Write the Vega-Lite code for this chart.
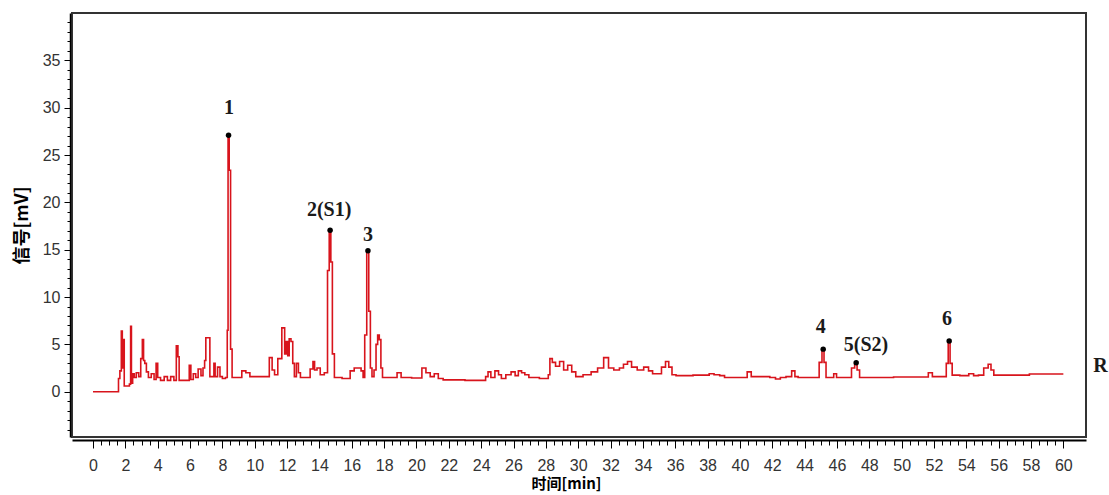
{
  "$schema": "https://vega.github.io/schema/vega-lite/v6.json",
  "width": 1014,
  "height": 424,
  "autosize": "none",
  "padding": {"left": 72, "top": 13, "right": 23, "bottom": 58},
  "background": "white",
  "config": {"view": {"stroke": "#333333", "strokeWidth": 2}, "axis": {"grid": false}},
  "datasets": {
    "trace": [
      {"t":0,"v":0},{"t":1.55,"v":0},{"t":1.6,"v":1.4},{"t":1.72,"v":2.2},{"t":1.78,"v":6.4},{"t":1.84,"v":2.5},{"t":1.9,"v":5.5},{"t":1.96,"v":0.6},
      {"t":2.2,"v":0.6},{"t":2.3,"v":0.8},{"t":2.35,"v":6.9},{"t":2.4,"v":0.9},{"t":2.5,"v":1.9},{"t":2.6,"v":1.5},{"t":2.75,"v":2.0},{"t":2.9,"v":1.6},
      {"t":3.0,"v":3.5},{"t":3.1,"v":5.5},{"t":3.15,"v":3.3},{"t":3.25,"v":3.0},{"t":3.35,"v":2.1},{"t":3.5,"v":1.5},{"t":3.7,"v":1.9},{"t":3.85,"v":1.3},
      {"t":3.95,"v":3.0},{"t":4.05,"v":1.5},{"t":4.3,"v":1.2},{"t":4.5,"v":1.6},{"t":4.7,"v":1.2},{"t":4.9,"v":1.6},{"t":5.1,"v":1.2},{"t":5.2,"v":4.85},
      {"t":5.3,"v":3.7},{"t":5.35,"v":1.2},{"t":5.9,"v":1.2},{"t":6.0,"v":2.8},{"t":6.1,"v":1.3},{"t":6.3,"v":1.9},{"t":6.4,"v":1.5},{"t":6.6,"v":2.4},
      {"t":6.75,"v":1.7},{"t":6.85,"v":2.5},{"t":6.95,"v":3.3},{"t":7.0,"v":5.7},{"t":7.2,"v":5.7},{"t":7.25,"v":1.6},{"t":7.45,"v":1.6},{"t":7.5,"v":3.0},
      {"t":7.6,"v":1.6},{"t":7.8,"v":2.6},{"t":7.9,"v":1.6},{"t":8.1,"v":1.4},{"t":8.28,"v":1.5},{"t":8.32,"v":6.5},{"t":8.38,"v":27.1},{"t":8.46,"v":23.4},
      {"t":8.55,"v":4.5},{"t":8.65,"v":1.5},{"t":9.1,"v":1.5},{"t":9.3,"v":2.2},{"t":9.6,"v":2.0},{"t":9.8,"v":1.6},{"t":10.8,"v":1.6},{"t":11.0,"v":3.6},
      {"t":11.15,"v":2.3},{"t":11.3,"v":1.8},{"t":11.55,"v":3.5},{"t":11.8,"v":6.75},{"t":11.9,"v":4.0},{"t":12.0,"v":5.3},{"t":12.08,"v":3.8},{"t":12.18,"v":5.6},
      {"t":12.3,"v":5.3},{"t":12.4,"v":3.0},{"t":12.5,"v":1.6},{"t":12.65,"v":3.0},{"t":12.75,"v":2.0},{"t":12.9,"v":1.5},{"t":13.3,"v":1.5},{"t":13.55,"v":2.4},
      {"t":13.65,"v":3.2},{"t":13.75,"v":2.3},{"t":13.95,"v":2.5},{"t":14.15,"v":1.8},{"t":14.45,"v":2.0},{"t":14.55,"v":12.8},{"t":14.66,"v":17.06},{"t":14.75,"v":13.7},
      {"t":14.85,"v":4.0},{"t":15.0,"v":1.5},{"t":15.8,"v":1.4},{"t":16.0,"v":2.2},{"t":16.3,"v":2.5},{"t":16.5,"v":2.5},{"t":16.65,"v":2.2},{"t":16.75,"v":1.5},
      {"t":16.85,"v":6.0},{"t":17.0,"v":14.85},{"t":17.1,"v":8.5},{"t":17.2,"v":2.5},{"t":17.3,"v":1.6},{"t":17.45,"v":2.3},{"t":17.55,"v":5.0},{"t":17.65,"v":6.0},
      {"t":17.75,"v":5.5},{"t":17.85,"v":2.5},{"t":17.95,"v":1.5},{"t":18.7,"v":1.5},{"t":18.9,"v":2.0},{"t":19.2,"v":1.5},{"t":20.2,"v":1.45},{"t":20.47,"v":2.5},
      {"t":20.7,"v":2.0},{"t":21.0,"v":1.6},{"t":21.2,"v":1.9},{"t":21.5,"v":1.4},{"t":21.8,"v":1.25},{"t":24.2,"v":1.2},{"t":24.35,"v":1.6},{"t":24.5,"v":2.1},
      {"t":24.7,"v":1.5},{"t":25.0,"v":2.2},{"t":25.15,"v":1.8},{"t":25.35,"v":1.4},{"t":25.7,"v":1.8},{"t":26.0,"v":2.1},{"t":26.2,"v":1.7},{"t":26.4,"v":2.2},
      {"t":26.6,"v":2.0},{"t":26.8,"v":1.8},{"t":27.1,"v":1.5},{"t":28.1,"v":1.4},{"t":28.2,"v":1.8},{"t":28.3,"v":3.5},{"t":28.5,"v":3.1},{"t":28.7,"v":2.7},
      {"t":29.0,"v":3.2},{"t":29.2,"v":2.3},{"t":29.5,"v":2.8},{"t":29.7,"v":2.1},{"t":30.0,"v":1.6},{"t":30.6,"v":1.8},{"t":31.0,"v":2.1},{"t":31.4,"v":2.5},
      {"t":31.75,"v":3.6},{"t":32.0,"v":2.5},{"t":32.4,"v":2.3},{"t":32.7,"v":2.5},{"t":32.9,"v":2.9},{"t":33.2,"v":3.2},{"t":33.4,"v":2.6},{"t":33.9,"v":2.3},
      {"t":34.2,"v":2.6},{"t":34.5,"v":2.2},{"t":34.7,"v":1.9},{"t":35.0,"v":1.9},{"t":35.3,"v":2.6},{"t":35.5,"v":3.2},{"t":35.7,"v":2.6},{"t":35.9,"v":1.8},
      {"t":36.2,"v":1.7},{"t":38.0,"v":1.75},{"t":38.2,"v":1.9},{"t":38.6,"v":1.8},{"t":38.9,"v":1.7},{"t":39.2,"v":1.5},{"t":40.3,"v":1.5},{"t":40.6,"v":2.1},
      {"t":40.8,"v":1.6},{"t":41.7,"v":1.6},{"t":42.0,"v":1.5},{"t":42.4,"v":1.35},{"t":42.6,"v":1.5},{"t":43.1,"v":1.6},{"t":43.3,"v":2.2},{"t":43.5,"v":1.6},
      {"t":43.7,"v":1.5},{"t":44.8,"v":1.5},{"t":45.0,"v":3.1},{"t":45.15,"v":4.5},{"t":45.25,"v":3.1},{"t":45.4,"v":1.5},{"t":45.7,"v":1.5},{"t":45.9,"v":1.9},
      {"t":46.05,"v":1.5},{"t":46.8,"v":1.5},{"t":47.0,"v":2.5},{"t":47.19,"v":3.03},{"t":47.3,"v":2.3},{"t":47.5,"v":1.5},{"t":51.5,"v":1.55},{"t":51.8,"v":2.0},
      {"t":52.0,"v":1.6},{"t":52.7,"v":1.6},{"t":52.82,"v":3.0},{"t":52.94,"v":5.35},{"t":53.05,"v":3.0},{"t":53.2,"v":1.75},{"t":54.0,"v":1.7},{"t":54.3,"v":1.9},
      {"t":54.6,"v":1.7},{"t":54.9,"v":1.75},{"t":55.25,"v":2.5},{"t":55.45,"v":2.9},{"t":55.6,"v":2.3},{"t":55.8,"v":1.75},{"t":60.0,"v":1.87}
    ],
    "peaks": [
      {"t":8.38,"v":27.1},{"t":14.66,"v":17.06},{"t":17.0,"v":14.9},{"t":45.15,"v":4.5},{"t":47.19,"v":3.05},{"t":52.94,"v":5.37}
    ],
    "labels": [
      {"label":"1","lx":8.41,"ly":30.0},
      {"label":"2(S1)","lx":14.6,"ly":19.2},
      {"label":"3","lx":17.0,"ly":16.6},
      {"label":"4","lx":45.0,"ly":6.86},
      {"label":"5(S2)","lx":47.8,"ly":4.9},
      {"label":"6","lx":52.8,"ly":7.7},
      {"label":"R","lx":62.3,"ly":2.74}
    ]
  },
  "layer": [
    {
      "data": {"name": "trace"},
      "mark": {"type": "line", "color": "#d8141c", "strokeWidth": 1.6, "clip": true, "interpolate": "step"},
      "encoding": {
        "x": {"field": "t", "type": "quantitative",
          "scale": {"domain": [-1.3, 61.4], "nice": false, "zero": false},
          "axis": {"orient": "bottom", "values": [0,2,4,6,8,10,12,14,16,18,20,22,24,26,28,30,32,34,36,38,40,42,44,46,48,50,52,54,56,58,60],
            "format": "d", "offset": 3, "domainColor": "#000000", "domainWidth": 2,
            "tickColor": "#000000", "tickSize": 8, "tickWidth": 1,
            "labelFont": "Liberation Sans", "labelFontSize": 16, "labelColor": "#333333", "labelPadding": 9,
            "title": "时间[min]", "titleFont": "Noto Sans CJK SC", "titleFontWeight": "bold", "titleFontSize": 15,
            "titleColor": "#000000", "titlePadding": 3, "titleX": 494}},
        "y": {"field": "v", "type": "quantitative",
          "scale": {"domain": [-4.78, 40], "nice": false, "zero": false},
          "axis": {"orient": "left", "values": [0,5,10,15,20,25,30,35], "offset": 2,
            "domainColor": "#000000", "domainWidth": 1.5, "tickColor": "#000000", "tickSize": 6, "tickWidth": 1,
            "labelFont": "Liberation Sans", "labelFontSize": 16, "labelColor": "#333333", "labelPadding": 4,
            "title": "信号[mV]", "titleFont": "Noto Sans CJK SC", "titleFontWeight": "bold", "titleFontSize": 18,
            "titleColor": "#000000", "titlePadding": 11}}
      }
    },
    {
      "data": {"name": "peaks"},
      "mark": {"type": "point", "filled": true, "color": "#000000", "size": 30, "opacity": 1},
      "encoding": {
        "x": {"field": "t", "type": "quantitative",
          "axis": {"orient": "bottom", "values": [0,0.5,1,1.5,2,2.5,3,3.5,4,4.5,5,5.5,6,6.5,7,7.5,8,8.5,9,9.5,10,10.5,11,11.5,12,12.5,13,13.5,14,14.5,15,15.5,16,16.5,17,17.5,18,18.5,19,19.5,20,20.5,21,21.5,22,22.5,23,23.5,24,24.5,25,25.5,26,26.5,27,27.5,28,28.5,29,29.5,30,30.5,31,31.5,32,32.5,33,33.5,34,34.5,35,35.5,36,36.5,37,37.5,38,38.5,39,39.5,40,40.5,41,41.5,42,42.5,43,43.5,44,44.5,45,45.5,46,46.5,47,47.5,48,48.5,49,49.5,50,50.5,51,51.5,52,52.5,53,53.5,54,54.5,55,55.5,56,56.5,57,57.5,58,58.5,59,59.5,60],
            "offset": 3, "domain": false, "labels": false, "tickColor": "#000000", "tickSize": 5, "tickWidth": 1, "title": null}},
        "y": {"field": "v", "type": "quantitative",
          "axis": {"orient": "left", "values": [-4,-3,-2,-1,0,1,2,3,4,5,6,7,8,9,10,11,12,13,14,15,16,17,18,19,20,21,22,23,24,25,26,27,28,29,30,31,32,33,34,35,36,37,38,39],
            "offset": 2, "domain": false, "labels": false, "tickColor": "#000000", "tickSize": 3, "tickWidth": 1, "title": null}}
      }
    },
    {
      "data": {"name": "labels"},
      "mark": {"type": "text", "font": "Liberation Serif", "fontWeight": "bold", "fontSize": 20, "color": "#1a1a1a", "baseline": "middle", "align": "center"},
      "encoding": {
        "x": {"field": "lx", "type": "quantitative", "axis": null},
        "y": {"field": "ly", "type": "quantitative", "axis": null},
        "text": {"field": "label"}
      }
    }
  ],
  "resolve": {"axis": {"x": "independent", "y": "independent"}}
}
